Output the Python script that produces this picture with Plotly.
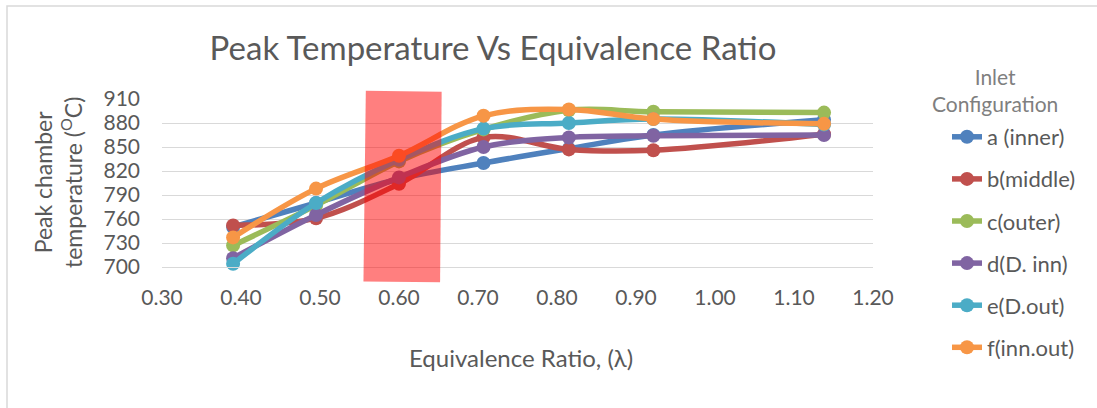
import plotly.graph_objects as go

# ---- data ----
equiv_ratio = [0.39, 0.495, 0.60, 0.707, 0.815, 0.922, 1.138]
series_names = ["a (inner)", "b(middle)", "c(outer)", "d(D. inn)", "e(D.out)", "f(inn.out)"]
a_inner = [750, 780, 810, 830, 848, 865, 884]
b_middle = [752, 761, 804, 862, 847, 846, 866]
c_outer = [727, 777, 832, 872, 896, 894, 893]
d_dinn = [711, 765, 812, 850, 862, 864, 865]
e_dout = [704, 780, 834, 873, 880, 885, 878]
f_innout = [737, 798, 839, 889, 897, 885, 879]
series_values = [a_inner, b_middle, c_outer, d_dinn, e_dout, f_innout]
colors = ["#4F81BD", "#C0504D", "#9BBB59", "#8064A2", "#4BACC6", "#F79646"]

y_ticks = [700, 730, 760, 790, 820, 850, 880, 910]
x_ticks = [0.30, 0.40, 0.50, 0.60, 0.70, 0.80, 0.90, 1.00, 1.10, 1.20]
x_range = [0.30, 1.20]
y_range = [700, 910]

# highlight band corners (data coords)
band_x = [0.558, 0.654, 0.652, 0.555]
band_y = [920.4, 919.1, 681.0, 682.0]

FONT = "Lato"
GREY = "#595959"

fig = go.Figure()
for i, (name, vals, col) in enumerate(zip(series_names, series_values, colors)):
    fig.add_trace(go.Scatter(
        x=equiv_ratio, y=vals, name=name, mode="lines+markers",
        line=dict(color=col, width=5.5, shape="spline", smoothing=1.0),
        marker=dict(color=col, size=14),
        cliponaxis=False, legendgroup=str(i),
    ))

def dx(v):
    return (v - x_range[0]) / (x_range[1] - x_range[0])

def dy(v):
    return (v - y_range[0]) / (y_range[1] - y_range[0])

path = "M {} {} L {} {} L {} {} L {} {} Z".format(
    dx(band_x[0]), dy(band_y[0]), dx(band_x[1]), dy(band_y[1]),
    dx(band_x[2]), dy(band_y[2]), dx(band_x[3]), dy(band_y[3]))

L, R, T, B = 162, 224, 99, 141
W, H = 1097, 408
pw, ph = W - L - R, H - T - B

def px(xp):
    return (xp - L) / pw

def py(yp):
    return (H - B - yp) / ph

fig.update_layout(
    width=W, height=H,
    margin=dict(l=L, r=R, t=T, b=B),
    paper_bgcolor="white", plot_bgcolor="white",
    font=dict(family=FONT, color=GREY, size=21),
    title=dict(text="Peak Temperature Vs Equivalence Ratio",
               x=493 / W, xref="container", xanchor="center",
               y=1 - 48 / H, yref="container", yanchor="middle",
               font=dict(size=33, color=GREY, family=FONT)),
    xaxis=dict(range=x_range, tickvals=x_ticks, ticktext=["%.2f" % v for v in x_ticks],
               showgrid=False, zeroline=False, showline=True, linecolor="#D9D9D9", linewidth=1.3,
               ticks="", ticklabelstandoff=12, tickfont=dict(size=21, color=GREY)),
    yaxis=dict(range=y_range, tickvals=y_ticks, showgrid=True, gridcolor="#D9D9D9", gridwidth=1.3,
               zeroline=False, showline=False, ticks="", ticklabelstandoff=21,
               tickfont=dict(size=21, color=GREY)),
    legend=dict(x=px(947), xanchor="left", y=py(116), yanchor="top", maxheight=400,
                font=dict(size=22, color=GREY), traceorder="grouped", tracegroupgap=10.5),
    shapes=[
        dict(type="path", path=path, xref="x domain", yref="y domain",
             fillcolor="rgba(255,0,0,0.5)", line=dict(width=0), layer="above"),
        dict(type="rect", xref="paper", yref="paper",
             x0=px(7), x1=px(1110), y0=py(6), y1=py(420),
             line=dict(color="#D9D9D9", width=1.5), fillcolor="rgba(0,0,0,0)"),
    ],
    annotations=[
        dict(text="Inlet<br>Configuration", align="center",
             xref="paper", yref="paper", x=px(995), y=py(90), xanchor="center", yanchor="middle",
             showarrow=False, font=dict(size=21, color="#7F7F7F", family=FONT)),
        dict(text="Peak chamber<br>temperature (<sup>O</sup>C)", textangle=-90,
             xref="paper", yref="paper", x=px(58), y=py(183), xanchor="center", yanchor="middle",
             showarrow=False, font=dict(size=23, color=GREY, family=FONT)),
        dict(text="Equivalence Ratio, (λ)", xref="paper", yref="paper",
             x=px(521), y=py(357), xanchor="center", yanchor="middle",
             showarrow=False, font=dict(size=24, color=GREY, family=FONT)),
    ],
    showlegend=True,
)

fig.write_html("out.html")
